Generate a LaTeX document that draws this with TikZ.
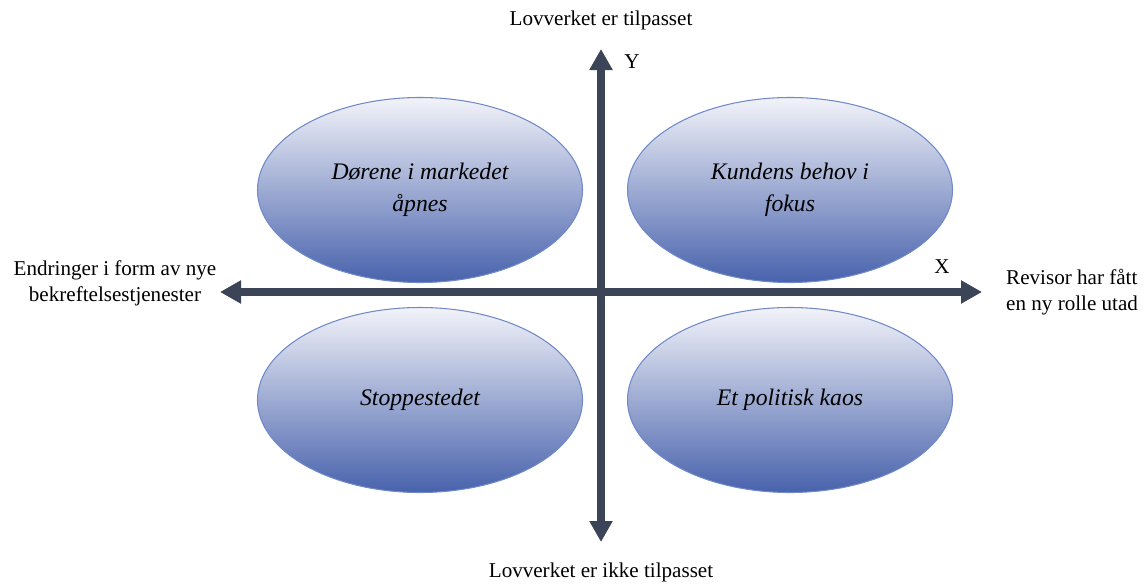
\documentclass[tikz,border=0pt]{standalone}
\usepackage{fontspec}
\setmainfont{Liberation Serif}
\usetikzlibrary{arrows.meta,shapes.geometric}

\definecolor{axiscol}{HTML}{3B4557}
\definecolor{ovaltop}{HTML}{F2F3F9}
\definecolor{ovalbot}{HTML}{4862AC}
\definecolor{ovalline}{HTML}{6F89C9}

\tikzset{
	oval/.style={ellipse,draw=ovalline,line width=0.6pt,top color=ovaltop,bottom color=ovalbot,
		minimum width=6.5cm,minimum height=3.7cm,inner sep=0pt,align=center,
		font=\fontsize{13.5}{18}\selectfont\itshape},
	axis/.style={draw=axiscol,line width=4pt,{Triangle[width=0.44cm,length=0.42cm]}-{Triangle[width=0.44cm,length=0.42cm]}},
	lbl/.style={font=\fontsize{12}{14.8}\selectfont,align=center}
}

\begin{document}
\begin{tikzpicture}
	\useasboundingbox (0,0) rectangle (22.86,-11.66);
	% quadrants
	\node[oval] (tl) at (8.4,-3.8) {Dørene i markedet\\åpnes};
	\node[oval] (tr) at (15.8,-3.8) {Kundens behov i\\fokus};
	\node[oval] (bl) at (8.4,-8.0) {Stoppestedet};
	\node[oval] (br) at (15.8,-8.0) {Et politisk kaos};
	% axes
	\coordinate (ytop) at (12.02,-0.98);
	\coordinate (ybot) at (12.02,-10.84);
	\coordinate (xleft) at (4.4,-5.84);
	\coordinate (xright) at (19.64,-5.84);
	\draw[axis] (ybot) -- (ytop);
	\draw[axis] (xleft) -- (xright);
	% labels
	\node[lbl] (ylab) at (12.64,-1.24) {Y};
	\node[lbl] (xlab) at (18.84,-5.34) {X};
	\node[lbl] (top) at (12.02,-0.4) {Lovverket er tilpasset};
	\node[lbl] (bottom) at (12.02,-11.44) {Lovverket er ikke tilpasset};
	\node[lbl] (left) at (2.3,-5.66) {Endringer i form av nye\\bekreftelsestjenester};
	\node[lbl,align=left,anchor=west] (right) at (20.0,-5.84) {Revisor har fått\\en ny rolle utad};
\end{tikzpicture}
\end{document}
